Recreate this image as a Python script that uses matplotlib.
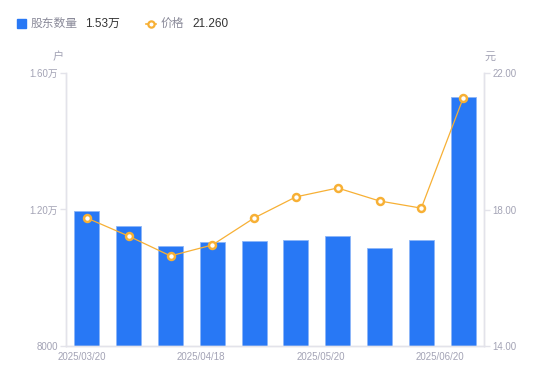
import numpy as np
import matplotlib.pyplot as plt

plt.rcParams['font.family'] = ['Liberation Sans', 'Noto Sans CJK SC', 'DejaVu Sans']

dates = ["2025/03/20", "", "", "2025/04/18", "", "", "2025/05/20", "", "", "2025/06/20"]
holders = [11950, 11520, 10930, 11050, 11080, 11110, 11220, 10870, 11110, 15300]
price = [17.75, 17.22, 16.64, 16.96, 17.75, 18.37, 18.63, 18.25, 18.04, 21.26]

left_ticks = [8000, 12000, 16000]
left_labels = ["8000", "1.20万", "1.60万"]
right_ticks = [14, 18, 22]
right_labels = ["14.00", "18.00", "22.00"]

blue = "#2878F5"
orange = "#F7B035"
gray = "#A3A3B5"
axis_c = "#E3E3EA"

fig = plt.figure(figsize=(5.5, 3.81), dpi=100)
ax = fig.add_axes([66 / 550, 1 - 346 / 381, 418 / 550, 273 / 381])
ax2 = ax.twinx()

x = np.arange(len(holders))
ax.bar(x, holders, width=0.6, color=blue, edgecolor="#8DB6F8", linewidth=0.6, zorder=2)
ax.set_xlim(-0.5, len(holders) - 0.5)
ax.set_ylim(8000, 16000)
ax2.set_ylim(14, 22)
ax2.plot(x, price, color=orange, lw=0.9, marker="o", ms=5, mfc="white",
         mec=orange, mew=1.8, zorder=3)

for a in (ax, ax2):
    a.spines["top"].set_visible(False)
    for s in ("left", "right", "bottom"):
        a.spines[s].set_color(axis_c)
        a.spines[s].set_linewidth(1)

ax.set_yticks(left_ticks)
ax.set_yticklabels(left_labels)
ax2.set_yticks(right_ticks)
ax2.set_yticklabels(right_labels)
ax.tick_params(axis="y", colors=axis_c, labelcolor=gray, labelsize=7, length=4, width=1, pad=2)
ax2.tick_params(axis="y", colors=axis_c, labelcolor=gray, labelsize=7, length=4, width=1, pad=2)

# date labels are spread evenly, not under the bars
pos = np.linspace(-0.12, 8.45, 4)
ax.set_xticks(pos)
ax.set_xticklabels([d for d in dates if d])
ax.tick_params(axis="x", length=0, labelcolor=gray, labelsize=7, pad=4)

fig.text(58 / 550, 1 - 57 / 381, "户", color=gray, fontsize=8, ha="center", va="center")
fig.text(490 / 550, 1 - 57 / 381, "元", color=gray, fontsize=8, ha="center", va="center")

# legend
fig.patches.append(plt.Rectangle((17 / 550, 1 - 28 / 381), 9 / 550, 9 / 381,
                                 transform=fig.transFigure, color=blue))
fig.text(31 / 550, 1 - 24 / 381, "股东数量", color="#8A8A99", fontsize=8.5, va="center")
fig.text(85 / 550, 1 - 24 / 381, "1.53万", color="#333333", fontsize=8.5, va="center")
fig.lines.append(plt.Line2D([146 / 550, 156 / 550], [1 - 24 / 381] * 2, transform=fig.transFigure,
                            color=orange, lw=1.2))
fig.lines.append(plt.Line2D([151 / 550], [1 - 24 / 381], transform=fig.transFigure,
                            color=orange, marker="o", ms=4.5, mfc="white", mew=1.6, lw=0))
fig.text(161 / 550, 1 - 24 / 381, "价格", color="#8A8A99", fontsize=8.5, va="center")
fig.text(192 / 550, 1 - 24 / 381, "21.260", color="#333333", fontsize=8.5, va="center")

fig.savefig("out.png", dpi=100)
